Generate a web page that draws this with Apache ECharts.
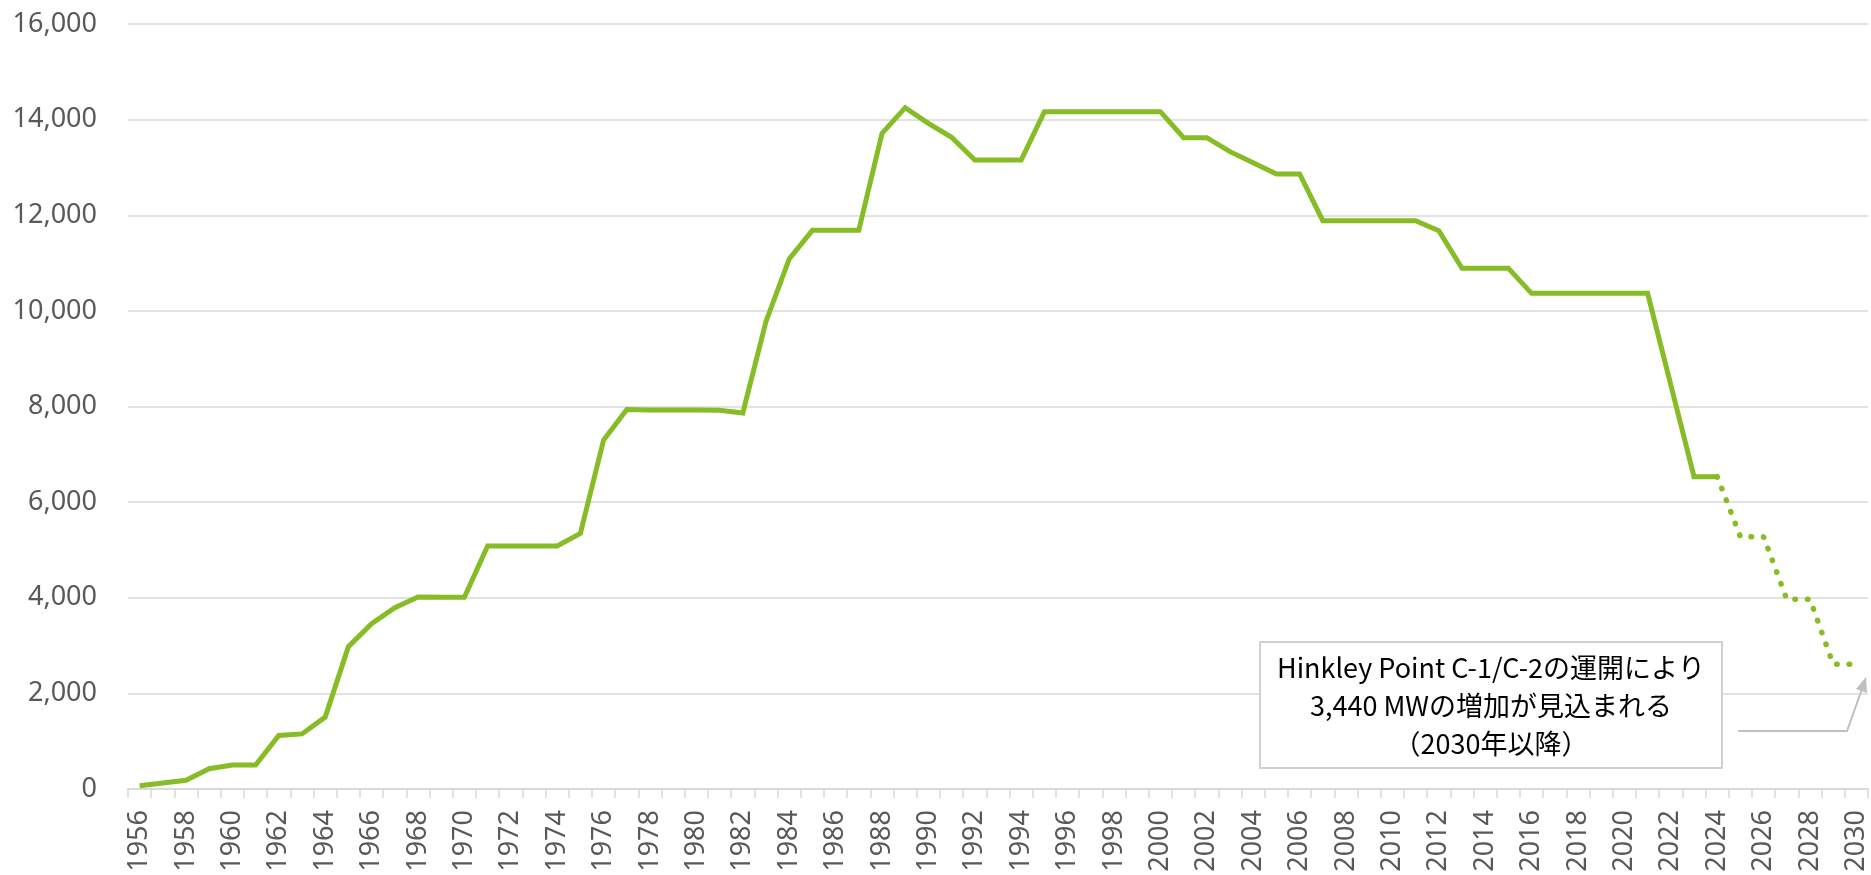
<!DOCTYPE html>
<html>
<head>
<meta charset="utf-8">
<script src="https://cdn.jsdelivr.net/npm/echarts@6/dist/echarts.min.js"></script>
<style>
  html, body { margin: 0; padding: 0; background: #fff; }
  #chart { width: 1871px; height: 875px; }
</style>
</head>
<body>
<div id="chart"></div>
<script>
// 年（X軸）
var years = ['1956','1957','1958','1959','1960','1961','1962','1963','1964','1965',
    '1966','1967','1968','1969','1970','1971','1972','1973','1974','1975',
    '1976','1977','1978','1979','1980','1981','1982','1983','1984','1985',
    '1986','1987','1988','1989','1990','1991','1992','1993','1994','1995',
    '1996','1997','1998','1999','2000','2001','2002','2003','2004','2005',
    '2006','2007','2008','2009','2010','2011','2012','2013','2014','2015',
    '2016','2017','2018','2019','2020','2021','2022','2023','2024','2025',
    '2026','2027','2028','2029','2030'];

// 実績（MW）1956-2024
var actual = [70, 125, 182, 423, 502, 502, 1119, 1152, 1504, 2976,
    3457, 3792, 4018, 4010, 4010, 5082, 5082, 5082, 5082, 5346,
    7299, 7939, 7925, 7925, 7925, 7920, 7866, 9780, 11085, 11685,
    11685, 11685, 13713, 14250, 13922, 13630, 13155, 13155, 13155, 14166,
    14166, 14166, 14166, 14166, 14166, 13623, 13623, 13330, 13100, 12863,
    12863, 11887, 11887, 11887, 11887, 11887, 11678, 10890, 10890, 10890,
    10367, 10367, 10367, 10367, 10367, 10367, 8450, 6533, 6533];

// 見通し（MW）2024-2030
var outlook = [6533, 5277, 5277, 3967, 3967, 2608, 2608];

var yTicks = { min: 0, max: 16000, interval: 2000 };

var lineColor = '#86BC25';

// 系列データを年に合わせて並べる
var solidData = [];
var dottedData = [];
for (var i = 0; i < years.length; i++) {
    solidData.push(i < actual.length ? actual[i] : null);
    var k = i - (actual.length - 1);
    dottedData.push(k >= 0 && k < outlook.length ? outlook[k] : null);
}

var myChart = echarts.init(document.getElementById('chart'));
var option = {
    animation: false,
    backgroundColor: '#fff',
    grid: { left: 128, right: 3, top: 24, bottom: 86 },
    xAxis: {
        type: 'category',
        data: years,
        boundaryGap: true,
        axisLine: { lineStyle: { color: '#d9d9d9', width: 2 } },
        axisTick: { show: true, interval: 0, length: 9, lineStyle: { color: '#d9d9d9', width: 1.5 } },
        axisLabel: {
            interval: 1,
            rotate: 90,
            margin: 21,
            color: '#595959',
            fontSize: 27,
            fontFamily: 'Noto Sans'
        }
    },
    yAxis: {
        type: 'value',
        min: yTicks.min,
        max: yTicks.max,
        interval: yTicks.interval,
        axisLine: { show: false },
        axisTick: { show: false },
        splitLine: { lineStyle: { color: '#d9d9d9', width: 1.5 } },
        axisLabel: {
            margin: 31,
            color: '#595959',
            fontSize: 27,
            fontFamily: 'Noto Sans',
            formatter: function (v) { return echarts.format.addCommas(v); }
        }
    },
    series: [
        {
            type: 'line',
            data: solidData,
            symbol: 'none',
            connectNulls: false,
            lineStyle: { color: lineColor, width: 5, join: 'miter' }
        },
        {
            type: 'line',
            data: dottedData,
            symbol: 'none',
            connectNulls: false,
            lineStyle: { color: lineColor, width: 5.5, type: [0.5, 12], cap: 'round' }
        }
    ],
    graphic: [
        {
            type: 'rect',
            z: 100,
            shape: { x: 1260, y: 642, width: 462, height: 126 },
            style: { fill: '#fff', stroke: '#d0d0d0', lineWidth: 2 }
        },
        {
            type: 'text',
            z: 101,
            style: {
                text: 'Hinkley Point C-1/C-2の運開により\n3,440 MWの増加が見込まれる\n（2030年以降）',
                x: 1491,
                y: 706,
                align: 'center',
                verticalAlign: 'middle',
                lineHeight: 38,
                fill: '#000',
                font: '27px "Noto Sans CJK JP"'
            }
        },
        {
            type: 'polyline',
            z: 100,
            shape: { points: [[1738, 731], [1847, 731], [1862, 689]] },
            style: { stroke: '#bfbfbf', lineWidth: 2, fill: null }
        },
        {
            type: 'polygon',
            z: 100,
            shape: { points: [[1866, 677], [1867, 693], [1856, 689]] },
            style: { fill: '#bfbfbf' }
        }
    ]
};
myChart.setOption(option);
</script>
</body>
</html>
